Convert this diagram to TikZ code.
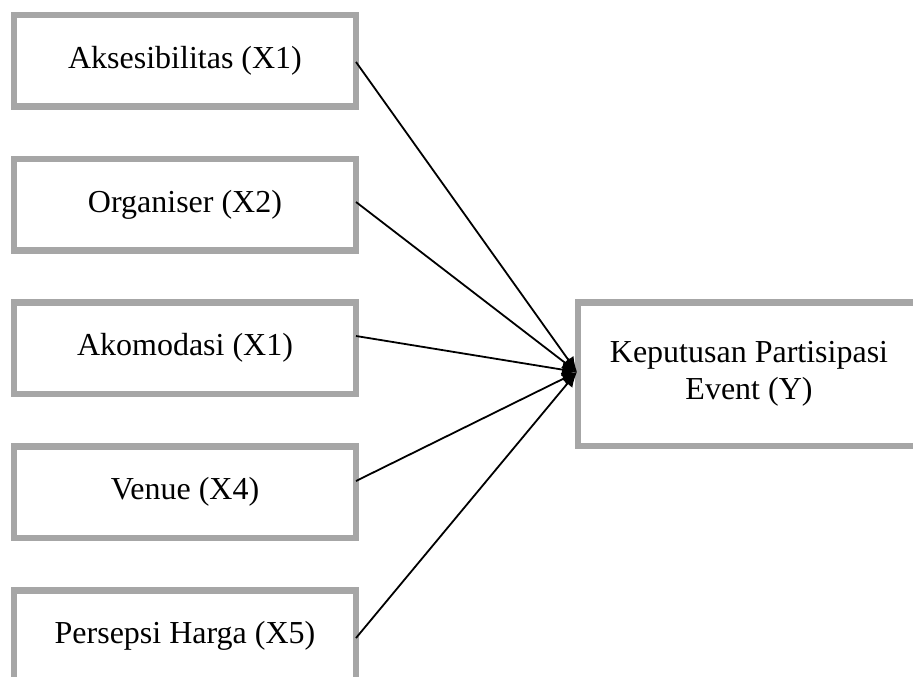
\documentclass[tikz,border=0pt]{standalone}
\usepackage{fontspec}
\setmainfont{Liberation Serif}
\usetikzlibrary{arrows.meta}
\definecolor{boxgray}{HTML}{A6A6A6}
\begin{document}
\begin{tikzpicture}[x=1pt,y=-1pt,
  varbox/.style={draw=boxgray, line width=6.5pt, rectangle, outer sep=0pt, inner sep=0pt,
    minimum width=342pt, minimum height=91.5pt, font=\fontsize{32}{37}\selectfont, align=center},
  link/.style={line width=1.8pt, -{Latex[length=15pt,width=13pt]}}]
\useasboundingbox (0,0) rectangle (913,677);
\node[varbox] (b1) at (185,60.75) {Aksesibilitas (X1)};
\node[varbox] (b2) at (185,204.75) {Organiser (X2)};
\node[varbox] (b3) at (185,348.25) {Akomodasi (X1)};
\node[varbox] (b4) at (185,492.25) {Venue (X4)};
\node[varbox] (b5) at (185,636.25) {Persepsi Harga (X5)};
\node[varbox, minimum width=342pt, minimum height=143.5pt] (y) at (749,374.25) {Keputusan Partisipasi\\Event (Y)};
\coordinate (s1) at ([yshift=-1.25pt]b1.east);
\coordinate (s2) at ([yshift=2.75pt]b2.east);
\coordinate (s3) at ([yshift=12.25pt]b3.east);
\coordinate (s4) at ([yshift=11.25pt]b4.east);
\coordinate (s5) at ([yshift=-1.75pt]b5.east);
\coordinate (t) at ([xshift=-1pt,yshift=2.25pt]y.west);
\foreach \s in {s1,s2,s3,s4,s5} \draw[link] (\s) -- (t);
\end{tikzpicture}
\end{document}
